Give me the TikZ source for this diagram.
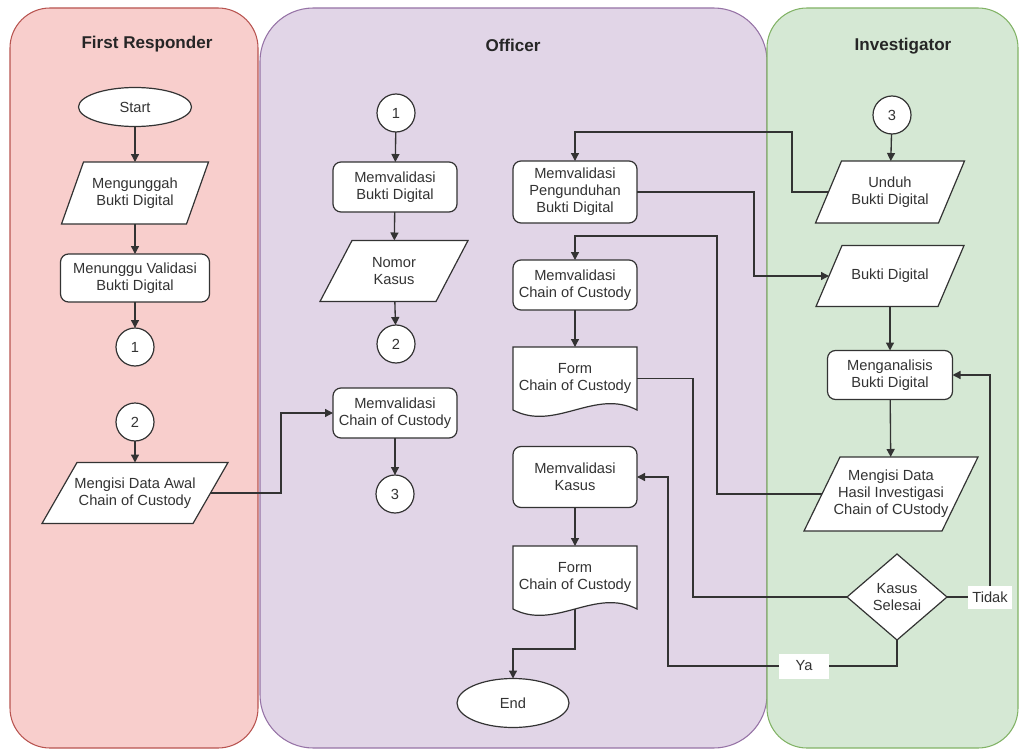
\documentclass[tikz,border=0pt]{standalone}
\usepackage{fontspec}
\setmainfont{Liberation Sans}
\usetikzlibrary{shapes.geometric,arrows.meta,calc}
\newcommand{\pxl}{0.75pt}
\definecolor{frfill}{HTML}{F8CECC}
\definecolor{frline}{HTML}{B85450}
\definecolor{offill}{HTML}{E1D5E7}
\definecolor{ofline}{HTML}{9673A6}
\definecolor{invfill}{HTML}{D5E8D4}
\definecolor{invline}{HTML}{82B366}
\definecolor{ink}{HTML}{333333}
\tikzset{
  shp/.style={draw=ink, fill=white, line width=0.9pt},
  txt/.style={font=\fontsize{11}{12.8}\selectfont, text=ink, align=center, inner sep=0pt, outer sep=0pt},
  rrect/.style={shp, txt, rounded corners=6pt},
  conn/.style={circle, shp, txt, minimum size=38*\pxl},
  oval/.style={ellipse, shp, txt},
  arr/.style={draw=ink, line width=1pt, -{Triangle[length=6pt,width=6pt]}},
  ln/.style={draw=ink, line width=1pt},
  lbl/.style={txt, fill=white},
  lanetitle/.style={font=\fontsize{12.8}{14}\selectfont\bfseries, text=black!85},
}
% parallelogram: name, x, y, mid width, height, skew, text
\newcommand{\para}[7]{%
  \draw[shp] (#2-#4/2-#6/2, #3+#5/2) -- (#2+#4/2-#6/2, #3+#5/2) -- (#2+#4/2+#6/2, #3-#5/2) -- (#2-#4/2+#6/2, #3-#5/2) -- cycle;
  \node[txt, minimum width=#4*\pxl, minimum height=#5*\pxl] (#1) at (#2,#3) {#7};
}
% document shape: name, x, ytop, width, text
\newcommand{\docu}[5]{%
  \draw[shp] (#2-#4/2, #3) -- (#2+#4/2, #3) -- (#2+#4/2, #3+63) .. controls (#2+20, #3+41) and (#2-20, #3+85) .. (#2-#4/2, #3+63) -- cycle;
  \node[txt, minimum width=#4*\pxl, minimum height=63*\pxl] (#1) at (#2, #3+31.5) {#5};
}
\begin{document}
\begin{tikzpicture}[x=0.75pt, y=-0.75pt]
\useasboundingbox (0,0) rectangle (1021,749);
% lanes
\draw[fill=frfill, draw=frline, line width=0.8pt, rounded corners=30pt] (10,8) rectangle (258,748);
\draw[fill=offill, draw=ofline, line width=0.8pt, rounded corners=40pt] (260,8) rectangle (767,748);
\draw[fill=invfill, draw=invline, line width=0.8pt, rounded corners=30pt] (767,8) rectangle (1018,748);
\node[lanetitle] (tfr) at (147,44) {First Responder};
\node[lanetitle] (tof) at (513,45) {Officer};
\node[lanetitle] (tin) at (903,46) {Investigator};

% First Responder
\node[oval, minimum width=113*\pxl, minimum height=39*\pxl] (start) at (135,107) {Start};
\para{mg}{135}{193}{125}{62}{22}{Mengunggah\\Bukti Digital}
\node[rrect, minimum width=149*\pxl, minimum height=48*\pxl] (mv) at (135,278) {Menunggu Validasi\\Bukti Digital};
\node[conn] (c1a) at (135,347) {1};
\node[conn] (c2a) at (135,422) {2};
\para{mda}{135}{493}{151}{61}{35}{Mengisi Data Awal\\Chain of Custody}

% Officer
\node[conn] (c1b) at (396,113) {1};
\node[rrect, minimum width=124*\pxl, minimum height=50*\pxl] (mbd) at (395,187) {Memvalidasi\\Bukti Digital};
\para{nk}{394}{271}{116}{61}{32}{Nomor\\Kasus}
\node[conn] (c2b) at (396,344) {2};
\node[rrect, minimum width=124*\pxl, minimum height=50*\pxl] (mcc) at (395,413) {Memvalidasi\\Chain of Custody};
\node[conn] (c3b) at (395,494) {3};
\node[rrect, minimum width=124*\pxl, minimum height=62*\pxl] (mpd) at (575,192) {Memvalidasi\\Pengunduhan\\Bukti Digital};
\node[rrect, minimum width=124*\pxl, minimum height=50*\pxl] (mcc2) at (575,285) {Memvalidasi\\Chain of Custody};
\docu{form1}{575}{347}{124}{Form\\Chain of Custody}
\node[rrect, minimum width=124*\pxl, minimum height=61*\pxl] (mk) at (575,477) {Memvalidasi\\Kasus};
\docu{form2}{575}{546}{124}{Form\\Chain of Custody}
\node[oval, minimum width=112*\pxl, minimum height=49*\pxl] (end) at (513,703) {End};

% Investigator
\node[conn] (c3c) at (892,115) {3};
\para{ub}{890}{192}{123}{62}{26}{Unduh\\Bukti Digital}
\para{bd}{890}{276}{122}{61}{26}{Bukti Digital}
\node[rrect, minimum width=125*\pxl, minimum height=49*\pxl] (man) at (890,375) {Menganalisis\\Bukti Digital};
\para{mdh}{891}{494}{138}{74}{36}{Mengisi Data\\Hasil Investigasi\\Chain of CUstody}
\node[diamond, shp, txt, minimum width=100*\pxl, minimum height=86*\pxl] (dia) at (897,597) {Kasus\\Selesai};

% bend points
\coordinate (b1) at (792,132);
\coordinate (b2) at (717,236);
\coordinate (yb) at (668,666);
\coordinate (tk) at (990,597);
\coordinate (yk) at (804,666);

% connectors
\draw[arr] (start) -- (mg);
\draw[arr] (mg) -- (mv);
\draw[arr] (mv) -- (c1a);
\draw[arr] (c2a) -- (mda);
\draw[arr] (mda.east) -- ++(70.5,0) |- (mcc.west);
\draw[arr] (c1b) -- (mbd);
\draw[arr] (mbd) -- (nk);
\draw[arr] (nk) -- (c2b);
\draw[arr] (mcc) -- (c3b);
\draw[arr] (c3c) -- (ub);
\draw[arr] (ub.west) -| (b1) -| (mpd.north);
\draw[arr] (mpd.east) -- ++(117,0) |- (bd.west);
\draw[arr] (bd) -- (man);
\draw[arr] (man) -- (mdh);
\draw[arr] (mdh.west) -| (b2) -| (mcc2.north);
\draw[arr] (mcc2) -- (form1);
\draw[ln] (form1.east) -- ++(56,0) |- (dia.west);
\draw[arr] (mk) -- (form2);
\draw[arr] (form2.south) -- ++(0,40) -| (end.north);
\draw[arr] (dia.south) |- (yb) |- (mk.east);
\draw[arr] (dia.east) -- (tk) |- (man.east);
\node[lbl, minimum width=44*\pxl, minimum height=23*\pxl] (tidak) at (tk) {Tidak};
\node[lbl, minimum width=50*\pxl, minimum height=25*\pxl] (ya) at (yk) {Ya};
\end{tikzpicture}
\end{document}
